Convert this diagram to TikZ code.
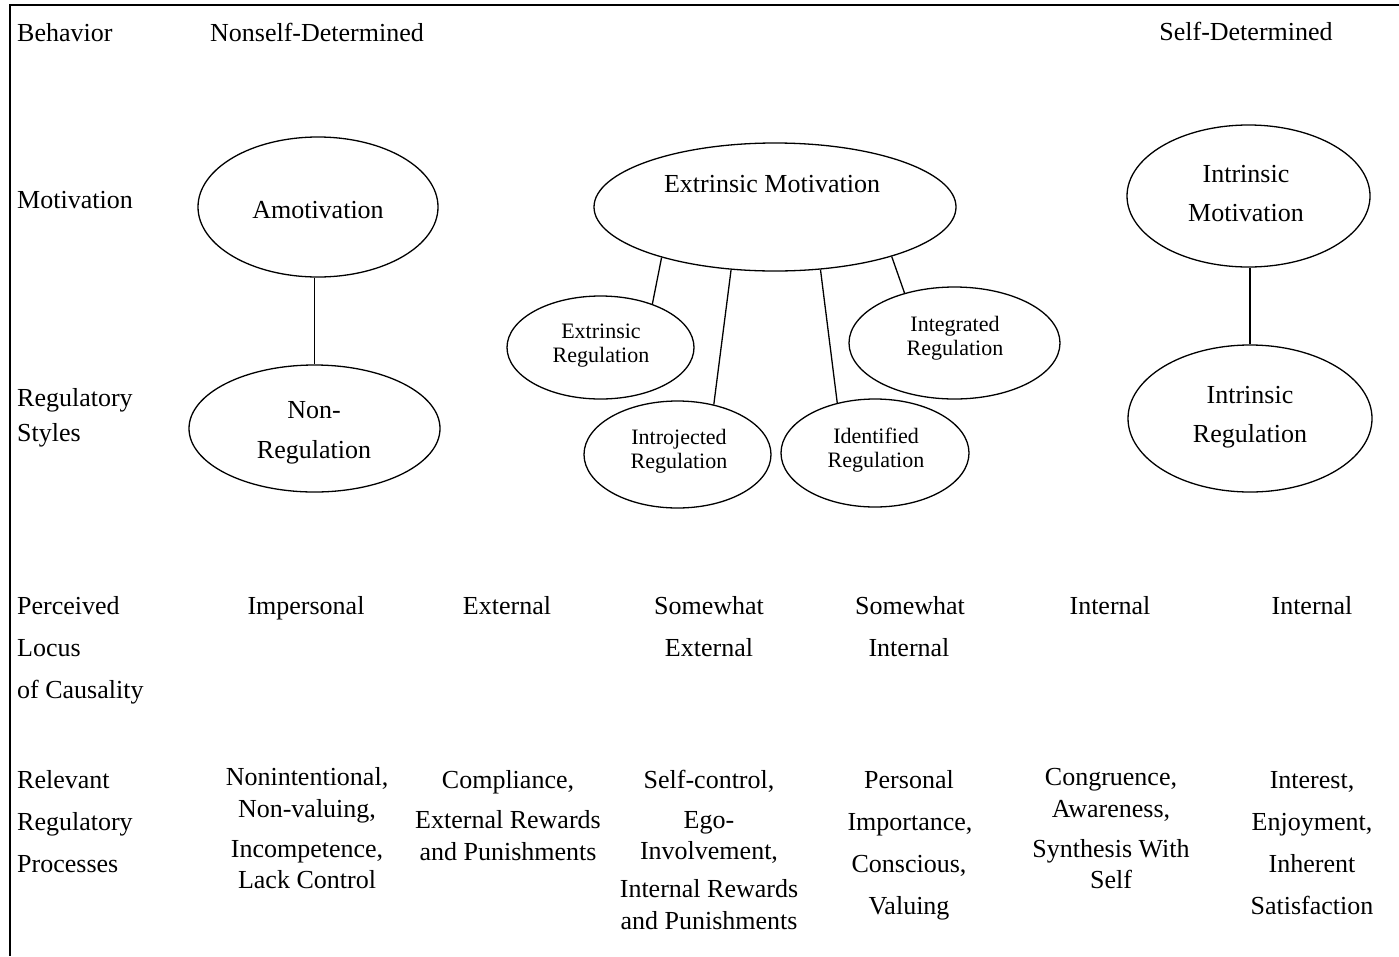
\documentclass[tikz,border=0pt]{standalone}
\usepackage{fontspec}
\setmainfont{Liberation Serif}
\usetikzlibrary{shapes.geometric}
\begin{document}
\begin{tikzpicture}[x=1pt,y=-1pt,
  ell/.style={draw, ellipse, line width=1.3pt, inner sep=0pt},
  conn/.style={line width=1.3pt},
  tx/.style={font=\fontsize{26}{30}\selectfont, inner sep=0pt, anchor=base},
  lt/.style={tx, anchor=base west},
  sm/.style={font=\fontsize{22}{26}\selectfont, inner sep=0pt, anchor=base}]
\useasboundingbox (0,0) rectangle (1399,956);
\draw[line width=2pt] (1399,5) -- (10,5) -- (10,956);

% row labels
\node[lt] (lbeh) at (17,41) {Behavior};
\node[lt] (lmot) at (17,208) {Motivation};
\node[lt] (lreg1) at (17,406) {Regulatory};
\node[lt] (lreg2) at (17,441) {Styles};
\node[lt] (lloc1) at (17,614) {Perceived};
\node[lt] (lloc2) at (17,656) {Locus};
\node[lt] (lloc3) at (17,698) {of Causality};
\node[lt] (lpro1) at (17,788) {Relevant};
\node[lt] (lpro2) at (17,830) {Regulatory};
\node[lt] (lpro3) at (17,872) {Processes};

% headers
\node[tx] (hnon) at (317,41) {Nonself-Determined};
\node[tx] (hself) at (1246,40) {Self-Determined};

% ellipses
\node[ell, minimum width=240pt, minimum height=140pt] (am) at (318,207) {};
\node[ell, minimum width=251pt, minimum height=127pt] (nr) at (314.5,428.5) {};
\node[ell, minimum width=362pt, minimum height=128pt] (em) at (775,207) {};
\node[ell, minimum width=187pt, minimum height=103pt] (er) at (600.5,347.5) {};
\node[ell, minimum width=187pt, minimum height=107pt] (ij) at (677.5,454.5) {};
\node[ell, minimum width=188pt, minimum height=108pt] (id) at (875,453) {};
\node[ell, minimum width=211pt, minimum height=112pt] (ig) at (954.5,343) {};
\node[ell, minimum width=243pt, minimum height=142pt] (im) at (1248.5,196) {};
\node[ell, minimum width=244pt, minimum height=147pt] (ir) at (1250,418.5) {};

% ellipse texts
\node[tx] (tam) at (318,218) {Amotivation};
\node[tx] (tnr1) at (314,418) {Non-};
\node[tx] (tnr2) at (314,458) {Regulation};
\node[tx] (tem) at (772,192) {Extrinsic Motivation};
\node[sm] (ter1) at (601,338.5) {Extrinsic};
\node[sm] (ter2) at (601,362.5) {Regulation};
\node[sm] (tij1) at (679,444.5) {Introjected};
\node[sm] (tij2) at (679,468.5) {Regulation};
\node[sm] (tid1) at (876,443.5) {Identified};
\node[sm] (tid2) at (876,467.5) {Regulation};
\node[sm] (tig1) at (955,331.5) {Integrated};
\node[sm] (tig2) at (955,355.5) {Regulation};
\node[tx] (tim1) at (1246,182) {Intrinsic};
\node[tx] (tim2) at (1246,221) {Motivation};
\node[tx] (tir1) at (1250,403) {Intrinsic};
\node[tx] (tir2) at (1250,442) {Regulation};

% connectors
\draw[conn] (am.south -| nr.north) -- (nr.north);
\draw[conn] (em.204) -- (er.40);
\draw[conn] (em.235) -- (ij.54);
\draw[conn] (em.306) -- (id.127);
\draw[conn] (em.337) -- (ig.135);
\draw[conn] (im.south -| ir.north) -- (ir.north);

% perceived locus row
\node[tx] (c1) at (306,614) {Impersonal};
\node[tx] (c2) at (507,614) {External};
\node[tx] (c3a) at (709,614) {Somewhat};
\node[tx] (c3b) at (709,656) {External};
\node[tx] (c4a) at (910,614) {Somewhat};
\node[tx] (c4b) at (909,656) {Internal};
\node[tx] (c5) at (1110,614) {Internal};
\node[tx] (c6) at (1312,614) {Internal};

% processes row
\node[tx] (p1a) at (307,785) {Nonintentional,};
\node[tx] (p1b) at (307,817) {Non-valuing,};
\node[tx] (p1c) at (307,857) {Incompetence,};
\node[tx] (p1d) at (307,888) {Lack Control};
\node[tx] (p2a) at (508,788) {Compliance,};
\node[tx] (p2b) at (508,828) {External Rewards};
\node[tx] (p2c) at (508,860) {and Punishments};
\node[tx] (p3a) at (709,788) {Self-control,};
\node[tx] (p3b) at (709,828) {Ego-};
\node[tx] (p3c) at (709,859) {Involvement,};
\node[tx] (p3d) at (709,897) {Internal Rewards};
\node[tx] (p3e) at (709,929) {and Punishments};
\node[tx] (p4a) at (909,788) {Personal};
\node[tx] (p4b) at (910,830) {Importance,};
\node[tx] (p4c) at (909,872) {Conscious,};
\node[tx] (p4d) at (909,914) {Valuing};
\node[tx] (p5a) at (1111,785) {Congruence,};
\node[tx] (p5b) at (1111,817) {Awareness,};
\node[tx] (p5c) at (1111,857) {Synthesis With};
\node[tx] (p5d) at (1111,888) {Self};
\node[tx] (p6a) at (1312,788) {Interest,};
\node[tx] (p6b) at (1312,830) {Enjoyment,};
\node[tx] (p6c) at (1312,872) {Inherent};
\node[tx] (p6d) at (1312,914) {Satisfaction};
\end{tikzpicture}
\end{document}
